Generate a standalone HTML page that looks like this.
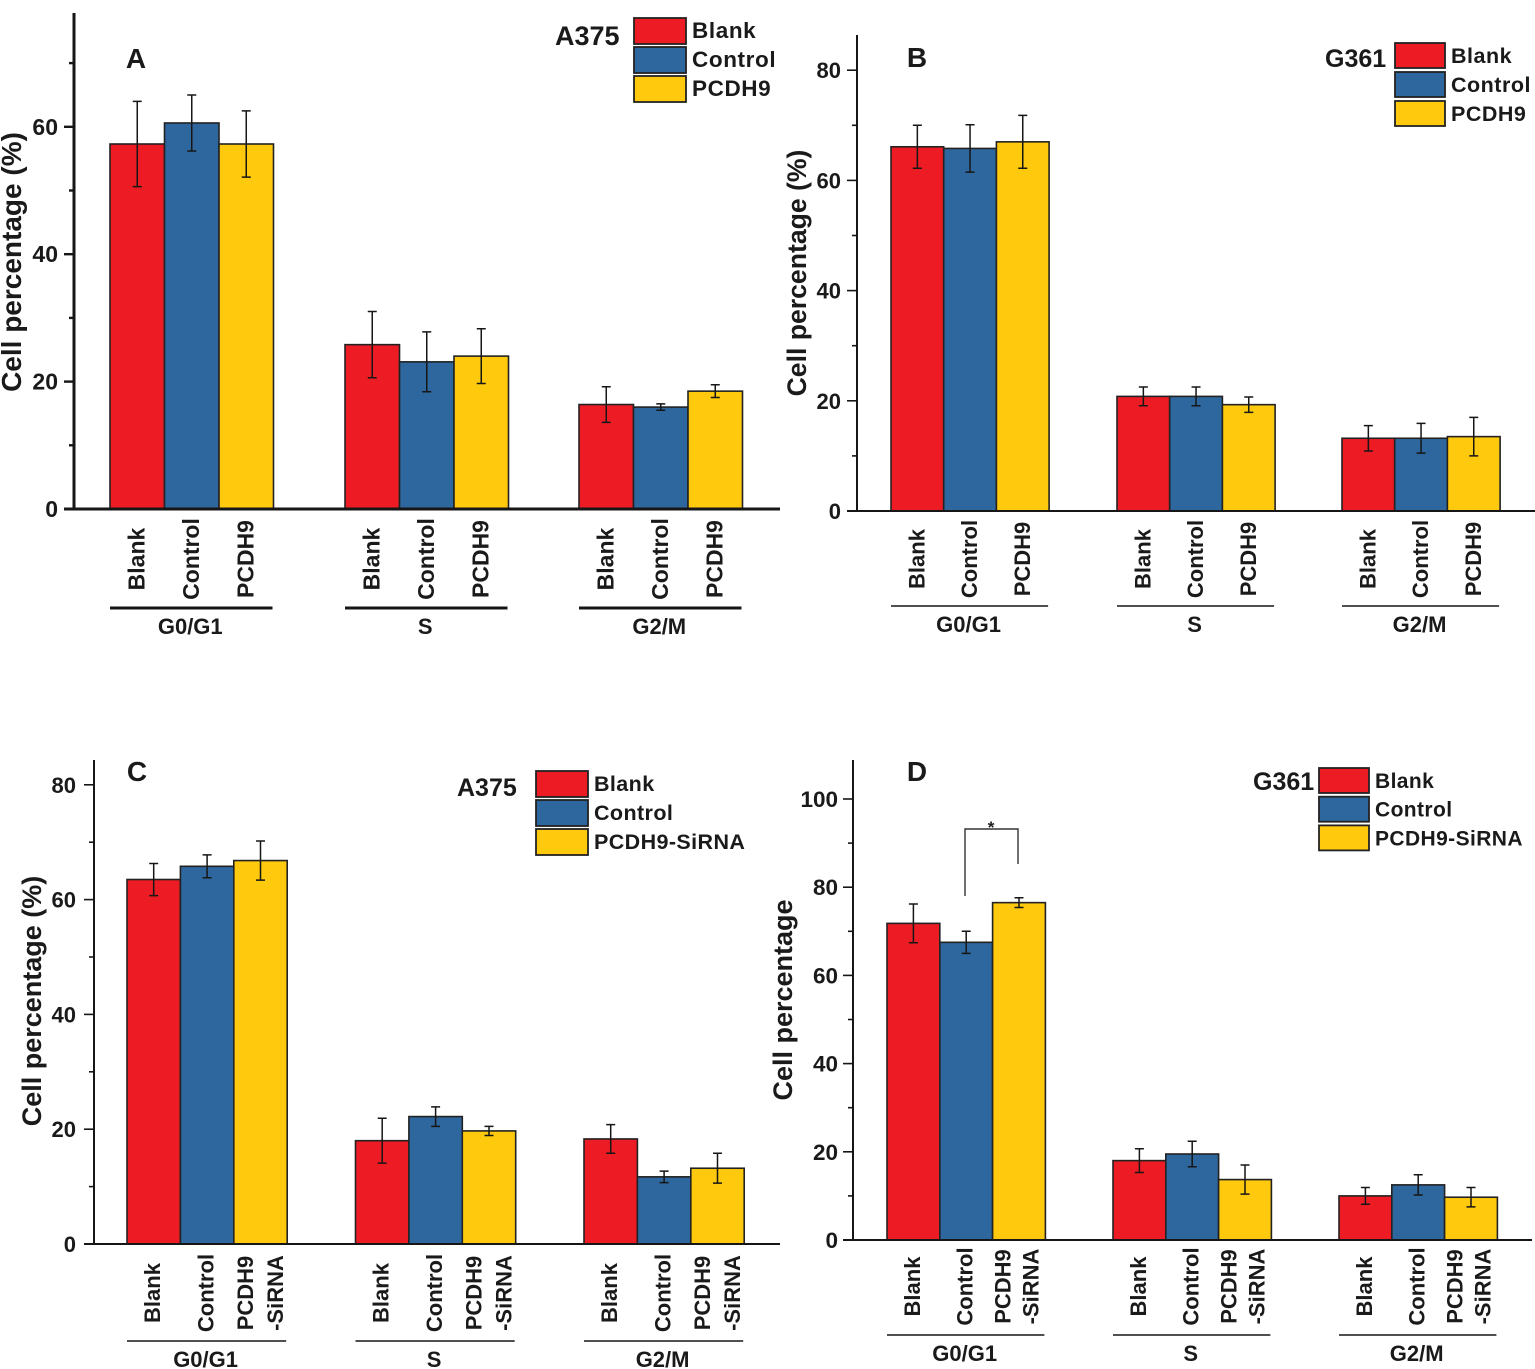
<!DOCTYPE html>
<html>
<head>
<meta charset="utf-8">
<title>Cell cycle distribution</title>
<style>
html,body{margin:0;padding:0;background:#fff;}
svg{display:block;}
text{font-family:"Liberation Sans",sans-serif;font-weight:bold;fill:#1a1a1a;}
</style>
</head>
<body>
<svg id="chart" width="1535" height="1369" viewBox="0 0 1535 1369" xmlns="http://www.w3.org/2000/svg"></svg>
<script>
const phases = ['G0/G1', 'S', 'G2/M'];
const seriesColors = ['#ed1c24', '#2e679d', '#ffc90e'];
const overexpressionGroups = ['Blank', 'Control', 'PCDH9'];
const sirnaGroups = ['Blank', 'Control', 'PCDH9-SiRNA'];

const valuesA = [[57.3, 60.6, 57.3], [25.8, 23.1, 24.0], [16.4, 16.0, 18.5]];
const errorsA = [[6.7, 4.4, 5.2], [5.2, 4.7, 4.3], [2.8, 0.5, 1.0]];
const ticksA = [0, 20, 40, 60];

const valuesB = [[66.1, 65.8, 67.0], [20.8, 20.8, 19.3], [13.2, 13.2, 13.5]];
const errorsB = [[3.9, 4.3, 4.8], [1.7, 1.7, 1.4], [2.3, 2.7, 3.5]];
const ticksB = [0, 20, 40, 60, 80];

const valuesC = [[63.5, 65.8, 66.8], [18.0, 22.2, 19.7], [18.3, 11.7, 13.2]];
const errorsC = [[2.8, 2.0, 3.4], [3.9, 1.7, 0.8], [2.5, 1.0, 2.6]];
const ticksC = [0, 20, 40, 60, 80];

const valuesD = [[71.8, 67.5, 76.5], [18.0, 19.5, 13.7], [10.0, 12.5, 9.7]];
const errorsD = [[4.4, 2.5, 1.1], [2.7, 2.9, 3.3], [1.9, 2.3, 2.2]];
const ticksD = [0, 20, 40, 60, 80, 100];

const NS = 'http://www.w3.org/2000/svg';
const root = document.getElementById('chart');

function make(parent, tag, attrs, name) {
  const el = document.createElementNS(NS, tag);
  for (const k in attrs) el.setAttribute(k, attrs[k]);
  
  
  parent.appendChild(el);
  return el;
}
function label(parent, str, x, y, size, anchor, name, rotate) {
  const attrs = {x: x, y: y, 'font-size': size, 'text-anchor': anchor};
  if (rotate) attrs.transform = 'rotate(-90 ' + x + ' ' + y + ')';
  const el = make(parent, 'text', attrs, name);
  el.textContent = str;
  return el;
}

function drawPanel(p) {
  const g = make(root, 'g', {}, 'panel-' + p.letter.toLowerCase());
  const yScale = v => p.y0 - v * p.pxPerUnit;
  const barX = (gi, si) => p.groupStarts[gi] + si * p.barWidth;
  const dark = '#161616';

  // bars and error bars
  p.values.forEach((vals, gi) => {
    vals.forEach((v, si) => {
      const x = barX(gi, si);
      make(g, 'rect', {x: x, y: yScale(v), width: p.barWidth, height: p.y0 - yScale(v),
        fill: seriesColors[si], stroke: '#222', 'stroke-width': 1.6}, 'bar-' + phases[gi].toLowerCase().replace('/', '-') + '-' + (si + 1));
    });
  });
  p.values.forEach((vals, gi) => {
    vals.forEach((v, si) => {
      const cx = barX(gi, si) + p.barWidth / 2;
      const e = p.errors[gi][si];
      const t = yScale(v + e), b = yScale(v - e);
      make(g, 'path', {d: 'M' + cx + ' ' + t + 'V' + b + 'M' + (cx - 4.5) + ' ' + t + 'H' + (cx + 4.5) + 'M' + (cx - 4.5) + ' ' + b + 'H' + (cx + 4.5),
        fill: 'none', stroke: dark, 'stroke-width': 1.5}, 'error-bar');
    });
  });

  // axes
  make(g, 'line', {x1: p.axisX, x2: p.axisX, y1: p.axisTop, y2: p.y0 + 1, stroke: dark, 'stroke-width': p.axisW}, 'y-axis');
  make(g, 'line', {x1: p.axisX - 10, x2: p.axisEnd, y1: p.y0, y2: p.y0, stroke: dark, 'stroke-width': p.axisW}, 'x-axis');
  for (let v = 0; yScale(v) >= p.axisTop; v += 10) {
    const major = v % 20 === 0;
    make(g, 'line', {x1: p.axisX - (major ? 10 : 5), x2: p.axisX, y1: yScale(v), y2: yScale(v), stroke: dark, 'stroke-width': p.axisW * 0.8}, major ? 'y-major-tick' : 'y-minor-tick');
  }
  p.ticks.forEach(v => {
    label(g, String(v), p.tickLabelX, yScale(v) + 8, p.tickSize, 'end', 'y-tick-label');
  });
  label(g, p.yTitle, p.yTitleX, p.yTitleY, p.yTitleSize, 'middle', 'y-axis-title', true);

  // x tick labels and phase groups
  phases.forEach((ph, gi) => {
    p.groups.forEach((name, si) => {
      const cx = barX(gi, si) + p.barWidth / 2;
      if (name.indexOf('-') > 0) {
        const parts = name.split('-');
        label(g, parts[0], cx + p.splitA, p.xLabelY, p.xLabelSize, 'middle', 'x-tick-label', true).setAttribute('dy', '8');
        label(g, '-' + parts[1], cx + p.splitB, p.xLabelY, p.xLabelSize, 'middle', 'x-tick-label', true).setAttribute('dy', '8');
      } else {
        label(g, name, cx + p.xLabelShift, p.xLabelY, p.xLabelSize, 'middle', 'x-tick-label', true).setAttribute('dy', '8');
      }
    });
    const gx1 = barX(gi, 0), gx2 = barX(gi, 3);
    make(g, 'line', {x1: gx1, x2: gx2 - 1, y1: p.groupLineY, y2: p.groupLineY, stroke: dark, 'stroke-width': p.groupLineW}, 'group-line');
    label(g, ph, (gx1 + gx2) / 2 - 1.5, p.groupLineY + 26, 22, 'middle', 'group-label');
  });

  // panel letter, cell line, legend
  label(g, p.letter, p.letterX, p.letterY, 28, 'middle', 'panel-letter');
  label(g, p.cellLine, p.cellX, p.cellY, p.cellSize, 'start', 'cell-line-label');
  p.groups.forEach((name, si) => {
    const y = p.legendY + si * p.legendStep;
    make(g, 'rect', {x: p.legendX, y: y, width: p.legendW, height: p.legendH, fill: seriesColors[si], stroke: '#222', 'stroke-width': 1.8}, 'legend-swatch');
    const t = label(g, name, p.legendX + p.legendW + 6, y + 20, p.legendSize, 'start', 'legend-entry');
    t.setAttribute('letter-spacing', p.legendSpacing);
  });
}

drawPanel({letter: 'A', cellLine: 'A375', values: valuesA, errors: errorsA, ticks: ticksA, groups: overexpressionGroups,
  y0: 509, pxPerUnit: 6.37, axisX: 74, axisTop: 13, axisEnd: 780, axisW: 3,
  groupStarts: [110, 345, 579], barWidth: 54.5,
  tickLabelX: 58, tickSize: 23, yTitle: 'Cell percentage (%)', yTitleX: 21, yTitleY: 262, yTitleSize: 28,
  xLabelY: 559, xLabelSize: 23, xLabelShift: -1, splitA: 0, splitB: 0, groupLineY: 608, groupLineW: 3,
  letterX: 136, letterY: 68, cellX: 555, cellY: 45, cellSize: 27,
  legendX: 634, legendY: 18, legendStep: 29, legendW: 52, legendH: 26, legendSize: 22.5, legendSpacing: 0.6});

drawPanel({letter: 'B', cellLine: 'G361', values: valuesB, errors: errorsB, ticks: ticksB, groups: overexpressionGroups,
  y0: 511, pxPerUnit: 5.51, axisX: 857, axisTop: 35, axisEnd: 1535, axisW: 2,
  groupStarts: [891, 1117, 1342], barWidth: 52.7,
  tickLabelX: 841, tickSize: 22, yTitle: 'Cell percentage (%)', yTitleX: 806, yTitleY: 273, yTitleSize: 26.6,
  xLabelY: 559, xLabelSize: 22, xLabelShift: -1, splitA: 0, splitB: 0, groupLineY: 606, groupLineW: 1.6,
  letterX: 917, letterY: 67, cellX: 1325, cellY: 67, cellSize: 25,
  legendX: 1395, legendY: 43, legendStep: 29, legendW: 50, legendH: 25, legendSize: 21.5, legendSpacing: 0.5});

drawPanel({letter: 'C', cellLine: 'A375', values: valuesC, errors: errorsC, ticks: ticksC, groups: sirnaGroups,
  y0: 1244, pxPerUnit: 5.74, axisX: 94, axisTop: 760, axisEnd: 780, axisW: 2,
  groupStarts: [127, 355.5, 584], barWidth: 53.4,
  tickLabelX: 76, tickSize: 22, yTitle: 'Cell percentage (%)', yTitleX: 41, yTitleY: 1001, yTitleSize: 27,
  xLabelY: 1293, xLabelSize: 22, xLabelShift: -1.5, splitA: -15.5, splitB: 14.5, groupLineY: 1341, groupLineW: 1.6,
  letterX: 137, letterY: 781, cellX: 457, cellY: 796, cellSize: 25,
  legendX: 536, legendY: 771, legendStep: 29, legendW: 52, legendH: 26, legendSize: 21.5, legendSpacing: 0.4});

drawPanel({letter: 'D', cellLine: 'G361', values: valuesD, errors: errorsD, ticks: ticksD, groups: sirnaGroups,
  y0: 1240, pxPerUnit: 4.41, axisX: 853, axisTop: 760, axisEnd: 1532, axisW: 2,
  groupStarts: [887, 1113, 1339], barWidth: 52.8,
  tickLabelX: 838, tickSize: 22.5, yTitle: 'Cell percentage', yTitleX: 792, yTitleY: 1000, yTitleSize: 27,
  xLabelY: 1286.5, xLabelSize: 22, xLabelShift: -1.5, splitA: -16.5, splitB: 11.5, groupLineY: 1335, groupLineW: 1.6,
  letterX: 917, letterY: 781, cellX: 1253, cellY: 790, cellSize: 25,
  legendX: 1319, legendY: 768, legendStep: 28.7, legendW: 50, legendH: 25, legendSize: 21, legendSpacing: 0.4});

// significance bracket in panel D
const bracket = document.createElementNS(NS, 'path');
bracket.setAttribute('d', 'M965 896V829H1018V864');
bracket.setAttribute('fill', 'none');
bracket.setAttribute('stroke', '#333');
bracket.setAttribute('stroke-width', '1.4');


root.appendChild(bracket);
const star = document.createElementNS(NS, 'text');
star.setAttribute('x', '991');
star.setAttribute('y', '833');
star.setAttribute('font-size', '17');
star.setAttribute('text-anchor', 'middle');


star.textContent = '*';
root.appendChild(star);
</script>
</body>
</html>
